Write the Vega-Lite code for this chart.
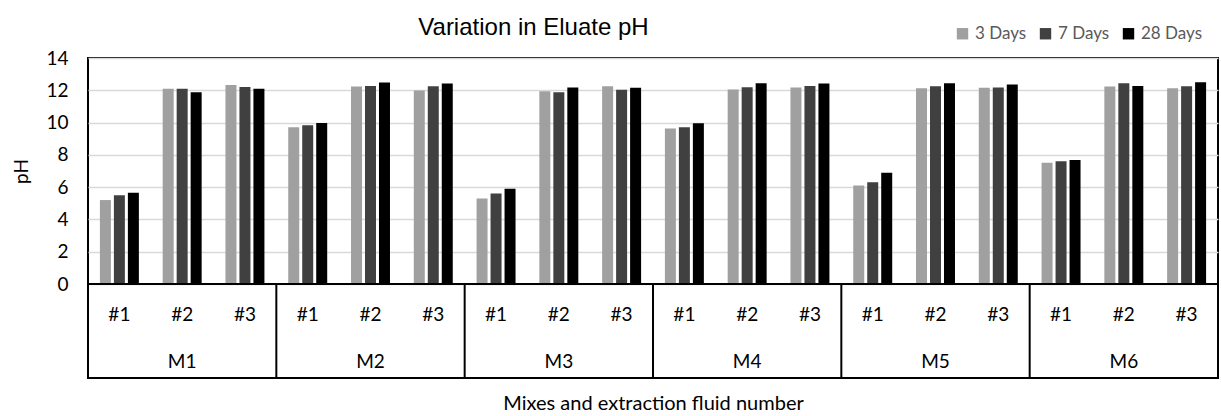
{
  "$schema": "https://vega.github.io/schema/vega-lite/v6.json",
  "autosize": {"type": "pad"},
  "padding": {"left": 11, "top": 16, "right": 2, "bottom": 2},
  "bounds": "flush",
  "title": {"text": "Variation in Eluate pH", "font": "Liberation Sans", "fontSize": 24, "fontWeight": "normal", "color": "#000000", "anchor": "middle", "dx": -82, "offset": -15},
  "datasets": {
    "ph": [
      {"sample": "M1 #1", "mix": "M1", "fluid": "#1", "days": "3 Days", "pH": 5.2},
      {"sample": "M1 #1", "mix": "M1", "fluid": "#1", "days": "7 Days", "pH": 5.5},
      {"sample": "M1 #1", "mix": "M1", "fluid": "#1", "days": "28 Days", "pH": 5.65},
      {"sample": "M1 #2", "mix": "M1", "fluid": "#2", "days": "3 Days", "pH": 12.1},
      {"sample": "M1 #2", "mix": "M1", "fluid": "#2", "days": "7 Days", "pH": 12.09},
      {"sample": "M1 #2", "mix": "M1", "fluid": "#2", "days": "28 Days", "pH": 11.88},
      {"sample": "M1 #3", "mix": "M1", "fluid": "#3", "days": "3 Days", "pH": 12.32},
      {"sample": "M1 #3", "mix": "M1", "fluid": "#3", "days": "7 Days", "pH": 12.21},
      {"sample": "M1 #3", "mix": "M1", "fluid": "#3", "days": "28 Days", "pH": 12.1},
      {"sample": "M2 #1", "mix": "M2", "fluid": "#1", "days": "3 Days", "pH": 9.71},
      {"sample": "M2 #1", "mix": "M2", "fluid": "#1", "days": "7 Days", "pH": 9.83},
      {"sample": "M2 #1", "mix": "M2", "fluid": "#1", "days": "28 Days", "pH": 9.98},
      {"sample": "M2 #2", "mix": "M2", "fluid": "#2", "days": "3 Days", "pH": 12.24},
      {"sample": "M2 #2", "mix": "M2", "fluid": "#2", "days": "7 Days", "pH": 12.27},
      {"sample": "M2 #2", "mix": "M2", "fluid": "#2", "days": "28 Days", "pH": 12.48},
      {"sample": "M2 #3", "mix": "M2", "fluid": "#3", "days": "3 Days", "pH": 11.99},
      {"sample": "M2 #3", "mix": "M2", "fluid": "#3", "days": "7 Days", "pH": 12.25},
      {"sample": "M2 #3", "mix": "M2", "fluid": "#3", "days": "28 Days", "pH": 12.42},
      {"sample": "M3 #1", "mix": "M3", "fluid": "#1", "days": "3 Days", "pH": 5.3},
      {"sample": "M3 #1", "mix": "M3", "fluid": "#1", "days": "7 Days", "pH": 5.61},
      {"sample": "M3 #1", "mix": "M3", "fluid": "#1", "days": "28 Days", "pH": 5.9},
      {"sample": "M3 #2", "mix": "M3", "fluid": "#2", "days": "3 Days", "pH": 11.94},
      {"sample": "M3 #2", "mix": "M3", "fluid": "#2", "days": "7 Days", "pH": 11.88},
      {"sample": "M3 #2", "mix": "M3", "fluid": "#2", "days": "28 Days", "pH": 12.17},
      {"sample": "M3 #3", "mix": "M3", "fluid": "#3", "days": "3 Days", "pH": 12.25},
      {"sample": "M3 #3", "mix": "M3", "fluid": "#3", "days": "7 Days", "pH": 12.03},
      {"sample": "M3 #3", "mix": "M3", "fluid": "#3", "days": "28 Days", "pH": 12.15},
      {"sample": "M4 #1", "mix": "M4", "fluid": "#1", "days": "3 Days", "pH": 9.63},
      {"sample": "M4 #1", "mix": "M4", "fluid": "#1", "days": "7 Days", "pH": 9.71},
      {"sample": "M4 #1", "mix": "M4", "fluid": "#1", "days": "28 Days", "pH": 9.96},
      {"sample": "M4 #2", "mix": "M4", "fluid": "#2", "days": "3 Days", "pH": 12.05},
      {"sample": "M4 #2", "mix": "M4", "fluid": "#2", "days": "7 Days", "pH": 12.19},
      {"sample": "M4 #2", "mix": "M4", "fluid": "#2", "days": "28 Days", "pH": 12.44},
      {"sample": "M4 #3", "mix": "M4", "fluid": "#3", "days": "3 Days", "pH": 12.17},
      {"sample": "M4 #3", "mix": "M4", "fluid": "#3", "days": "7 Days", "pH": 12.27},
      {"sample": "M4 #3", "mix": "M4", "fluid": "#3", "days": "28 Days", "pH": 12.42},
      {"sample": "M5 #1", "mix": "M5", "fluid": "#1", "days": "3 Days", "pH": 6.1},
      {"sample": "M5 #1", "mix": "M5", "fluid": "#1", "days": "7 Days", "pH": 6.31},
      {"sample": "M5 #1", "mix": "M5", "fluid": "#1", "days": "28 Days", "pH": 6.89},
      {"sample": "M5 #2", "mix": "M5", "fluid": "#2", "days": "3 Days", "pH": 12.13},
      {"sample": "M5 #2", "mix": "M5", "fluid": "#2", "days": "7 Days", "pH": 12.25},
      {"sample": "M5 #2", "mix": "M5", "fluid": "#2", "days": "28 Days", "pH": 12.44},
      {"sample": "M5 #3", "mix": "M5", "fluid": "#3", "days": "3 Days", "pH": 12.15},
      {"sample": "M5 #3", "mix": "M5", "fluid": "#3", "days": "7 Days", "pH": 12.17},
      {"sample": "M5 #3", "mix": "M5", "fluid": "#3", "days": "28 Days", "pH": 12.36},
      {"sample": "M6 #1", "mix": "M6", "fluid": "#1", "days": "3 Days", "pH": 7.51},
      {"sample": "M6 #1", "mix": "M6", "fluid": "#1", "days": "7 Days", "pH": 7.6},
      {"sample": "M6 #1", "mix": "M6", "fluid": "#1", "days": "28 Days", "pH": 7.68},
      {"sample": "M6 #2", "mix": "M6", "fluid": "#2", "days": "3 Days", "pH": 12.24},
      {"sample": "M6 #2", "mix": "M6", "fluid": "#2", "days": "7 Days", "pH": 12.44},
      {"sample": "M6 #2", "mix": "M6", "fluid": "#2", "days": "28 Days", "pH": 12.27},
      {"sample": "M6 #3", "mix": "M6", "fluid": "#3", "days": "3 Days", "pH": 12.13},
      {"sample": "M6 #3", "mix": "M6", "fluid": "#3", "days": "7 Days", "pH": 12.25},
      {"sample": "M6 #3", "mix": "M6", "fluid": "#3", "days": "28 Days", "pH": 12.5}
    ]
  },
  "spacing": 0,
  "vconcat": [
    {
      "width": 1130,
      "height": 226,
      "data": {"name": "ph"},
      "mark": {"type": "bar"},
      "encoding": {
        "x": {
          "field": "sample", "type": "nominal",
          "scale": {"domain": ["M1 #1","M1 #2","M1 #3","M2 #1","M2 #2","M2 #3","M3 #1","M3 #2","M3 #3","M4 #1","M4 #2","M4 #3","M5 #1","M5 #2","M5 #3","M6 #1","M6 #2","M6 #3"], "paddingInner": 0, "paddingOuter": 0},
          "axis": null
        },
        "xOffset": {"field": "days", "type": "nominal", "scale": {"domain": ["3 Days", "7 Days", "28 Days"], "paddingInner": 0.214, "paddingOuter": 0.851}},
        "y": {
          "field": "pH", "type": "quantitative",
          "scale": {"domain": [0, 14]},
          "axis": {"values": [0, 2, 4, 6, 8, 10, 12, 14], "title": "pH", "grid": true, "gridColor": "#d9d9d9", "gridWidth": 1.5, "domain": false, "ticks": false, "labelFontSize": 19, "labelPadding": 20, "labelColor": "#000000", "titleFontSize": 19, "titleFontWeight": "normal", "titleColor": "#000000", "titlePadding": 14}
        },
        "color": {
          "field": "days", "type": "nominal",
          "scale": {"domain": ["3 Days", "7 Days", "28 Days"], "range": ["#a0a0a0", "#404040", "#000000"]},
          "legend": {"orient": "none", "legendX": 866, "legendY": -33, "direction": "horizontal", "title": null, "symbolType": "square", "symbolSize": 130, "symbolStrokeWidth": 0, "labelFontSize": 17, "labelColor": "#595959", "columnPadding": 10, "labelOffset": 4}
        }
      }
    },
    {
      "width": 1130,
      "height": 94,
      "data": {"name": "ph"},
      "layer": [
        {
          "transform": [{"filter": "datum.days === '3 Days'"}],
          "mark": {"type": "text", "fontSize": 19, "color": "#000000"},
          "encoding": {
            "x": {
              "field": "sample", "type": "nominal",
              "scale": {"domain": ["M1 #1","M1 #2","M1 #3","M2 #1","M2 #2","M2 #3","M3 #1","M3 #2","M3 #3","M4 #1","M4 #2","M4 #3","M5 #1","M5 #2","M5 #3","M6 #1","M6 #2","M6 #3"], "paddingInner": 0, "paddingOuter": 0},
              "axis": {"labels": false, "ticks": false, "domain": false, "title": "Mixes and extraction fluid number", "titleFontSize": 20, "titleFontWeight": "normal", "titleColor": "#000000", "titlePadding": 15}
            },
            "y": {"datum": "fluid", "type": "nominal", "scale": {"type": "point", "domain": ["fluid", "mix"], "range": [31, 78], "padding": 0}, "axis": null},
            "text": {"field": "fluid"}
          }
        },
        {
          "transform": [{"filter": "datum.days === '3 Days' && datum.fluid === '#2'"}],
          "mark": {"type": "text", "fontSize": 19, "color": "#000000"},
          "encoding": {
            "x": {"field": "sample", "type": "nominal"},
            "y": {"datum": "mix", "type": "nominal"},
            "text": {"field": "mix"}
          }
        },
        {
          "transform": [{"filter": "datum.days === '3 Days' && datum.fluid === '#1' && datum.mix !== 'M1'"}],
          "mark": {"type": "rule", "color": "#000000", "strokeWidth": 2},
          "encoding": {
            "x": {"field": "sample", "type": "nominal", "bandPosition": 0}
          }
        }
      ]
    }
  ],
  "config": {
    "font": "Lato",
    "view": {"stroke": "#000000", "strokeWidth": 2},
    "axis": {"labelFont": "Lato", "titleFont": "Lato"},
    "legend": {"labelFont": "Lato"}
  }
}
